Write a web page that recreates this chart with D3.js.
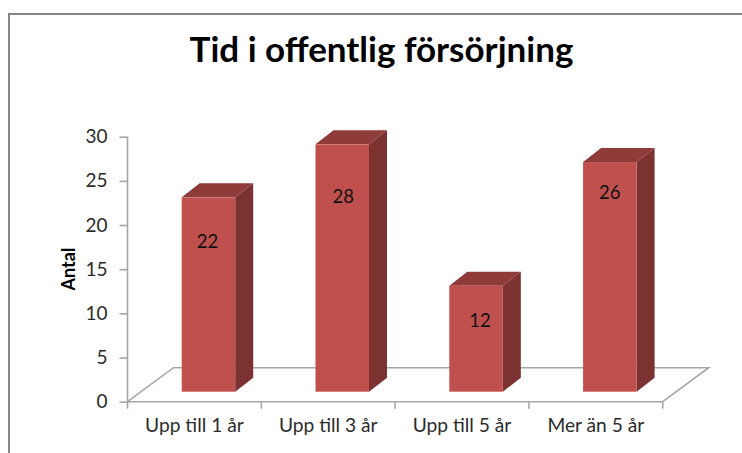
<!DOCTYPE html>
<html><head><meta charset="utf-8">
<script src="https://cdn.jsdelivr.net/npm/d3@7/dist/d3.min.js"></script>
<style>html,body{margin:0;padding:0;background:#fff}svg{display:block}text{font-family:Lato,"Open Sans",sans-serif}</style>
</head><body><svg id="c" width="742" height="453"></svg>
<script>
const categories = ["Upp till 1 år","Upp till 3 år","Upp till 5 år","Mer än 5 år"];
const values = [22,28,12,26];
const yTicks = [0,5,10,15,20,25,30];
const title = "Tid i offentlig försörjning";
const yTitle = "Antal";

const labelDrop = [45,53,36,31];
const labelShift = [-1,1,4,0];
const plot = {left:127.5,right:662.7,top:136.7,bottom:401.7};
const depth = {dx:18,dy:14};
const floorDepth = {dx:46,dy:34};
const frontLift = 10;

const svg = d3.select("#c");
const x = d3.scaleBand().domain(categories).range([plot.left,plot.right]).paddingInner(0).paddingOuter(0);
const y = d3.scaleLinear().domain([0,30]).range([plot.bottom,plot.top]);
const grey = "#a6a6a6";

svg.append("path").attr("d","M9,453V14H742").attr("fill","none").attr("stroke","#868686").attr("stroke-width",2);

svg.append("text").attr("x",381.5).attr("y",62).attr("text-anchor","middle")
  .attr("font-size",35).attr("font-weight",700).attr("fill","#000").text(title);

// floor
svg.append("path").attr("fill","none").attr("stroke",grey).attr("stroke-width",1.6)
  .attr("d",d3.line()([[plot.left,plot.bottom],[plot.left+floorDepth.dx,plot.bottom-floorDepth.dy],[plot.right+floorDepth.dx,plot.bottom-floorDepth.dy],[plot.right,plot.bottom]]));

const yAxis = d3.axisLeft(y).tickValues(yTicks).tickSize(8).tickPadding(12);
const gy = svg.append("g").attr("transform",`translate(${plot.left},0)`).call(yAxis);
const xAxis = d3.axisBottom(x).tickSize(0).tickPadding(17);
const gx = svg.append("g").attr("transform",`translate(0,${plot.bottom})`).call(xAxis);
[gy,gx].forEach(g=>{g.selectAll("path,line").attr("stroke",grey).attr("stroke-width",1.6);
  g.select(".domain").attr("d",g===gy?`M0,${plot.top}V${plot.bottom}`:`M${plot.left},0H${plot.right}`);});
gy.selectAll("text").attr("font-size",19).attr("fill","#2b2b2b").style("font-family","Lato");
gx.selectAll("text").attr("font-size",19.2).attr("fill","#2b2b2b").style("font-family","Lato");
// category boundary ticks
svg.append("g").selectAll("line").data(categories.map(c=>x(c)).concat(plot.right)).join("line")
  .attr("x1",d=>d).attr("x2",d=>d).attr("y1",plot.bottom).attr("y2",plot.bottom+7)
  .attr("stroke",grey).attr("stroke-width",1.6);

svg.append("text").attr("transform","translate(75,269) rotate(-90)").attr("text-anchor","middle")
  .attr("font-size",18).attr("font-weight",700).attr("fill","#000").text(yTitle);

// bars
const barW = x.bandwidth()*0.4;
const barX = c => x(c)+x.bandwidth()*0.405;
const front = v => y(v)-frontLift;
const bars = svg.append("g").selectAll("g").data(categories.map((c,i)=>({c,v:values[i],i}))).join("g");
bars.append("path").attr("fill","#7B3230").attr("d",d=>{const a=barX(d.c)+barW,t=front(d.v),b=front(0);
  return d3.line()([[a,t],[a+depth.dx,t-depth.dy],[a+depth.dx,b-depth.dy],[a,b]])+"Z";});
bars.append("path").attr("fill","#8E3B39").attr("d",d=>{const l=barX(d.c),a=l+barW,t=front(d.v);
  return d3.line()([[l,t],[l+depth.dx,t-depth.dy],[a+depth.dx,t-depth.dy],[a,t]])+"Z";});
bars.append("rect").attr("fill","#C0504D").attr("x",d=>barX(d.c)).attr("width",barW)
  .attr("y",d=>front(d.v)).attr("height",d=>front(0)-front(d.v));
bars.append("text").attr("text-anchor","middle").attr("font-size",18.5).attr("fill","#111")
  .attr("x",d=>barX(d.c)+barW/2+labelShift[d.i]).attr("y",d=>front(d.v)+labelDrop[d.i]+5.5).text(d=>d.v);
</script></body></html>
